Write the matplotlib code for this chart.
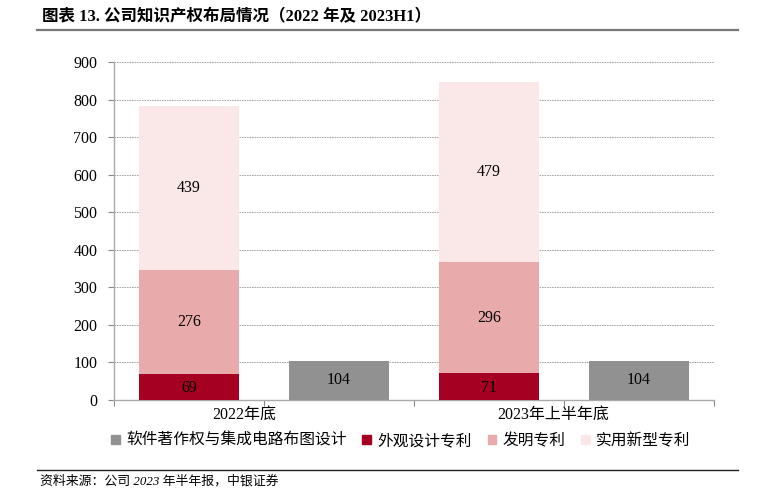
import matplotlib
matplotlib.use('Agg')
import matplotlib.pyplot as plt
from matplotlib.patches import Patch
from matplotlib.lines import Line2D

# data
groups = ['2022年底', '2023年上半年底']
waiguan = [69, 71]        # 外观设计专利
faming = [276, 296]       # 发明专利
shiyong = [439, 479]      # 实用新型专利
ruanzhu = [104, 104]      # 软件著作权与集成电路布图设计
series_names = ['软件著作权与集成电路布图设计', '外观设计专利', '发明专利', '实用新型专利']
yticks = [0, 100, 200, 300, 400, 500, 600, 700, 800, 900]

c_grey = '#919191'
c_dark = '#A50021'
c_mid = '#E8AAAA'
c_light = '#FAE8E8'

fam = ['Liberation Serif', 'Noto Sans CJK SC']
plt.rcParams['font.family'] = fam

fig = plt.figure(figsize=(7.65, 4.93), dpi=100)
ax = fig.add_axes([114 / 765, 1 - 400 / 493, 600 / 765, 338 / 493])

# stacked bars at positions 0 and 2, grey bars at 1 and 3
stack_x = [0, 2]
grey_x = [1, 3]
w = 2 / 3
ax.bar(stack_x, waiguan, w, color=c_dark, zorder=3)
ax.bar(stack_x, faming, w, bottom=waiguan, color=c_mid, zorder=3)
bot2 = [a + b for a, b in zip(waiguan, faming)]
ax.bar(stack_x, shiyong, w, bottom=bot2, color=c_light, zorder=3)
ax.bar(grey_x, ruanzhu, w, color=c_grey, zorder=3)

for i, x in enumerate(stack_x):
    ax.text(x, waiguan[i] / 2 - 3, str(waiguan[i]), ha='center', va='center', fontsize=11.5, zorder=4)
    ax.text(x, waiguan[i] + faming[i] / 2, str(faming[i]), ha='center', va='center', fontsize=11.5, zorder=4)
    ax.text(x, bot2[i] + shiyong[i] / 2, str(shiyong[i]), ha='center', va='center', fontsize=11.5, zorder=4)
for i, x in enumerate(grey_x):
    ax.text(x, ruanzhu[i] / 2, str(ruanzhu[i]), ha='center', va='center', fontsize=11.5, zorder=4)

ax.set_xlim(-0.5, 3.5)
ax.set_ylim(0, 900)
ax.set_yticks(yticks)
ax.tick_params(axis='y', labelsize=11.5, length=4, color='#888888', pad=8)
ax.set_xticks([-0.5, 0.5, 1.5, 2.5, 3.5])
ax.set_xticklabels([])
ax.tick_params(axis='x', length=4, color='#888888')
ax.grid(axis='y', color='#999999', linestyle=(0, (2, 1)), linewidth=0.6, zorder=0)
for s in ['top', 'right']:
    ax.spines[s].set_visible(False)
for s in ['left', 'bottom']:
    ax.spines[s].set_color('#AAAAAA')
    ax.spines[s].set_linewidth(1)

# group labels
ax.text(0.37, -40, groups[0], ha='center', va='center', fontsize=11.5, family=fam)
ax.text(2.43, -40, groups[1], ha='center', va='center', fontsize=11.5, family=fam)

# legend
handles = [Patch(color=c) for c in [c_grey, c_dark, c_mid, c_light]]
fig.legend(handles, series_names, loc='center', bbox_to_anchor=(401 / 765, 1 - 441 / 493),
           ncol=4, frameon=False, fontsize=11.3, handlelength=0.55, handleheight=0.55,
           handletextpad=0.4, columnspacing=1.0)

# title and source
fig.text(42 / 765, 1 - 17 / 493, '图表 13. 公司知识产权布局情况（2022 年及 2023H1）',
         fontsize=11.9, fontweight='bold', va='center', family=fam)
fig.add_artist(Line2D([37 / 765, 738 / 765], [1 - 30 / 493] * 2, color='#777777', lw=1.6))
fig.add_artist(Line2D([37 / 765, 738 / 765], [1 - 470 / 493] * 2, color='#222222', lw=1.0))
fig.text(40 / 765, 1 - 481 / 493, '资料来源：公司 2023 年半年报，中银证券',
         fontsize=9.3, style='italic', va='center', family=fam)

fig.savefig('out.png', dpi=100)
